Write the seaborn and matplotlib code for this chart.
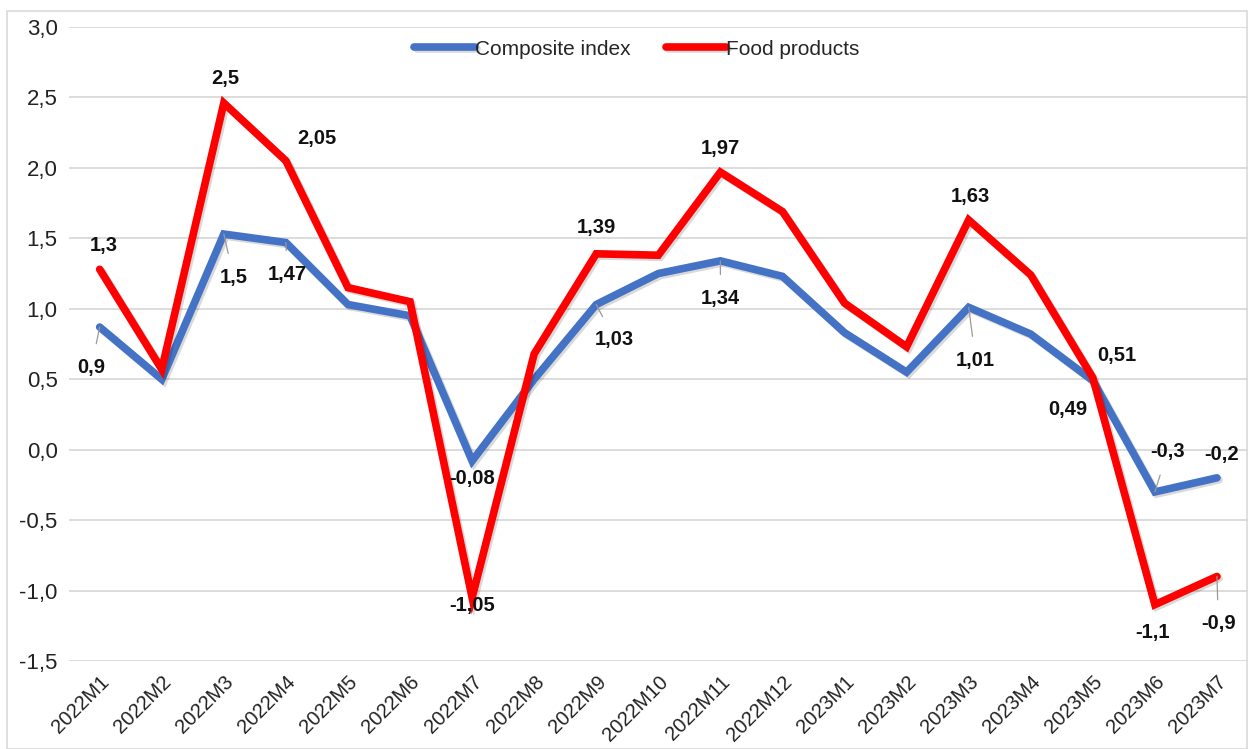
import pandas as pd
import numpy as np
import matplotlib.pyplot as plt
import matplotlib.patheffects as pe
import seaborn as sns

months = ["2022M1", "2022M2", "2022M3", "2022M4", "2022M5", "2022M6", "2022M7",
          "2022M8", "2022M9", "2022M10", "2022M11", "2022M12", "2023M1", "2023M2",
          "2023M3", "2023M4", "2023M5", "2023M6", "2023M7"]

composite = [0.87, 0.50, 1.53, 1.47, 1.03, 0.95, -0.08, 0.50, 1.03, 1.25,
             1.34, 1.23, 0.83, 0.55, 1.01, 0.82, 0.49, -0.30, -0.20]
food = [1.28, 0.57, 2.46, 2.05, 1.15, 1.05, -1.05, 0.68, 1.39, 1.38,
        1.97, 1.69, 1.04, 0.73, 1.63, 1.24, 0.51, -1.10, -0.90]

series_names = ["Composite index", "Food products"]
colors = ["#4472C4", "#FF0000"]

# data labels: (month index, label text)
composite_labels = [(0, "0,9"), (2, "1,5"), (3, "1,47"), (6, "-0,08"), (8, "1,03"),
                    (10, "1,34"), (14, "1,01"), (16, "0,49"), (17, "-0,3"), (18, "-0,2")]
food_labels = [(0, "1,3"), (2, "2,5"), (3, "2,05"), (6, "-1,05"), (8, "1,39"),
               (10, "1,97"), (14, "1,63"), (16, "0,51"), (17, "-1,1"), (18, "-0,9")]

# label offsets in points (dx, dy) and whether a leader line is drawn
composite_offsets = [(-6, -29, True), (7, -31, True), (1, -23, True), (0, -13, False),
                     (13, -25, True), (0, -27, True), (5, -38, True), (-18, -21, False),
                     (9, 29, True), (3, 17, False)]
food_offsets = [(3, 17, False), (1, 18, False), (22, 16, False), (0, -6, False),
                (0, 19, False), (0, 17, False), (1, 17, False), (17, 16, False),
                (-2, -20, False), (1, -34, True)]

df = pd.DataFrame({
    "month": months * 2,
    "x": list(range(len(months))) * 2,
    "value": composite + food,
    "series": [series_names[0]] * len(months) + [series_names[1]] * len(months),
})

sns.set_style("white")
plt.rcParams["font.family"] = ["Liberation Sans", "DejaVu Sans"]

fig = plt.figure(figsize=(12.48, 7.49), dpi=100)
ax = fig.add_axes([0.055, 0.1175, 0.945, 0.8465])

sns.lineplot(
    data=df,
    x="x",
    y="value",
    hue="series",
    palette=colors,
    linewidth=5.5,
    ax=ax,
)

for line in ax.get_lines():
    line.set_solid_joinstyle("miter")
    line.set_solid_capstyle("round")
    line.set_path_effects([
        pe.SimpleLineShadow(offset=(1.5, -1.5), alpha=0.15, shadow_color="black"),
        pe.Normal(),
    ])

ax.set_xlim(-0.5, len(months) - 0.5)
ax.set_ylim(-1.5, 3.0)
ax.set_yticks(np.arange(-1.5, 3.01, 0.5))
ax.set_yticklabels([f"{v:.1f}".replace(".", ",") for v in np.arange(-1.5, 3.01, 0.5)],
                   fontsize=16, color="#222222")
ax.set_xticks(range(len(months)))
ax.set_xticklabels(months, rotation=45, ha="right", rotation_mode="anchor",
                   fontsize=14.5, color="#222222")
ax.tick_params(axis="both", length=0, pad=8)
ax.grid(axis="y", color="#d9d9d9", linewidth=1.3)
ax.set_axisbelow(True)
for s in ax.spines.values():
    s.set_visible(False)
ax.set_xlabel("")
ax.set_ylabel("")


def add_labels(values, labels, offsets):
    for (i, txt), (dx, dy, leader) in zip(labels, offsets):
        ax.annotate(
            txt,
            xy=(i, values[i]),
            xytext=(dx, dy),
            textcoords="offset points",
            ha="center",
            va="center",
            fontsize=14.5,
            fontweight="bold",
            color="#111111",
            arrowprops=dict(arrowstyle="-", color="#9a9a9a", lw=0.9,
                            shrinkA=8, shrinkB=0) if leader else None,
            zorder=5,
        )


add_labels(composite, composite_labels, composite_offsets)
add_labels(food, food_labels, food_offsets)

leg = ax.legend(
    loc="center",
    bbox_to_anchor=(0.482, 0.965),
    ncol=2,
    frameon=False,
    fontsize=15,
    handlelength=2.9,
    handletextpad=0.0,
    columnspacing=1.7,
)
for h in leg.get_lines():
    h.set_linewidth(5.5)

fig.patches.append(plt.Rectangle((0.006, 0.0), 0.993, 0.985, transform=fig.transFigure,
                                 fill=False, edgecolor="#d9d9d9", linewidth=1.2))

plt.savefig("out.png", dpi=100)
